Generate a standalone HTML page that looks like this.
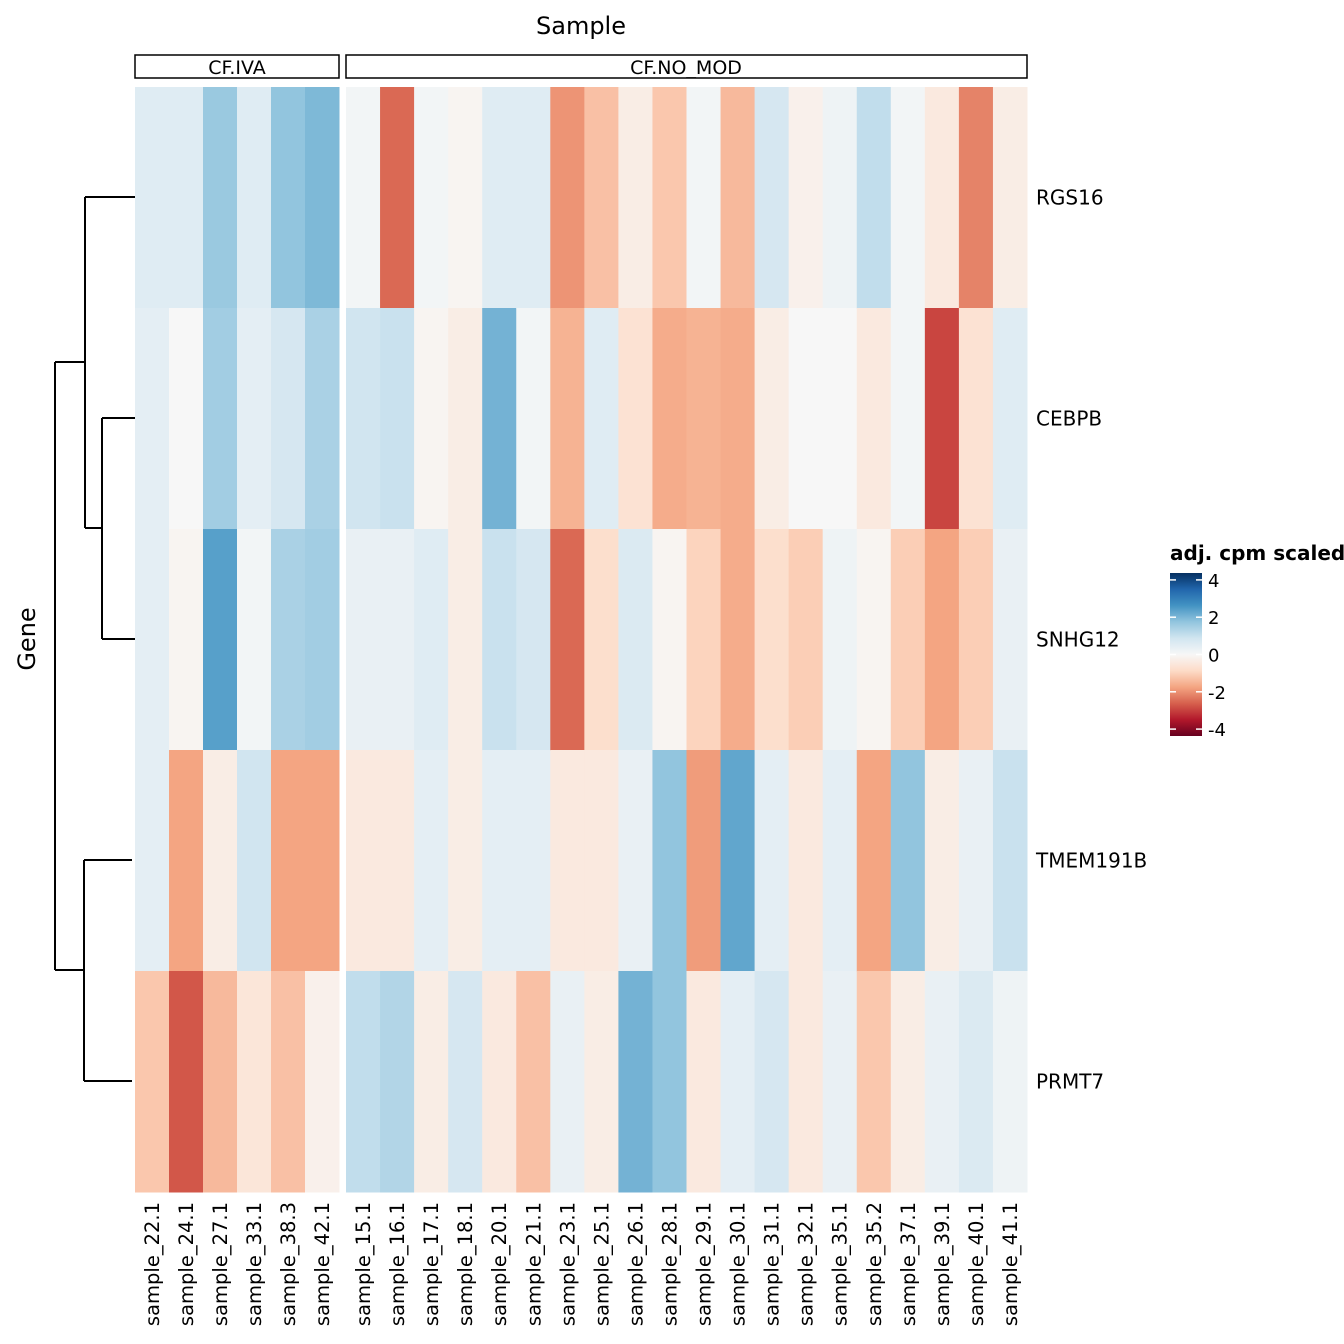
<!DOCTYPE html>
<html><head><meta charset="utf-8"><style>
body{margin:0;background:#fff;}
svg{display:block;font-family:"DejaVu Sans","Liberation Sans",sans-serif;}
</style></head><body>
<svg id="chart" width="1344" height="1344" viewBox="0 0 1344 1344">
<defs><linearGradient id="lg" x1="0" y1="1" x2="0" y2="0">
<stop offset="0" stop-color="#67001f"/><stop offset="0.1" stop-color="#b2182b"/><stop offset="0.2" stop-color="#d6604d"/><stop offset="0.3" stop-color="#f4a582"/><stop offset="0.4" stop-color="#fddbc7"/><stop offset="0.5" stop-color="#f7f7f7"/><stop offset="0.6" stop-color="#d1e5f0"/><stop offset="0.7" stop-color="#92c5de"/><stop offset="0.8" stop-color="#4393c3"/><stop offset="0.9" stop-color="#2166ac"/><stop offset="1" stop-color="#053061"/></linearGradient></defs>
<text x="581" y="34" font-size="24" text-anchor="middle">Sample</text>
<text x="0" y="0" font-size="24" text-anchor="middle" transform="translate(35,639) rotate(-90)">Gene</text>
<rect x="135" y="55" width="204" height="23" fill="none" stroke="#000" stroke-width="1.5"/>
<text x="237" y="74" font-size="19" text-anchor="middle">CF.IVA</text>
<rect x="346" y="55" width="681" height="23" fill="none" stroke="#000" stroke-width="1.5"/>
<text x="686" y="74" font-size="19" text-anchor="middle">CF.NO_MOD</text>
<g id="cells"></g>
<g id="dendro" fill="none" stroke="#000" stroke-width="2">
<path d="M102,418H135M102,639H135M102,418V639"/>
<path d="M85,197H135M85,528H102M85,197V528"/>
<path d="M84,860H132M84,1081H132M84,860V1081"/>
<path d="M55,362H85M55,970H84M55,362V970"/>
</g>
<g id="legend">
<text x="1170" y="560" font-size="20" font-weight="bold">adj. cpm scaled</text>
<rect x="1170" y="573" width="32" height="163" fill="url(#lg)"/>
</g>
</svg>
<script>
const ivaSamples=["sample_22.1","sample_24.1","sample_27.1","sample_33.1","sample_38.3","sample_42.1"];
const noModSamples=["sample_15.1","sample_16.1","sample_17.1","sample_18.1","sample_20.1","sample_21.1","sample_23.1","sample_25.1","sample_26.1","sample_28.1","sample_29.1","sample_30.1","sample_31.1","sample_32.1","sample_35.1","sample_35.2","sample_37.1","sample_39.1","sample_40.1","sample_41.1"];
const genes=["RGS16","CEBPB","SNHG12","TMEM191B","PRMT7"];
const ivaValues=[
[0.5,0.5,1.5,0.5,1.6,1.8],
[0.4,0.0,1.4,0.4,0.7,1.3],
[0.4,-0.1,2.2,0.1,1.3,1.4],
[0.4,-1.6,-0.3,0.8,-1.6,-1.6],
[-1.1,-2.5,-1.3,-0.5,-1.2,-0.2]];
const noModValues=[
[0.1,-2.3,0.1,-0.1,0.5,0.5,-1.8,-1.2,-0.3,-1.1,0.1,-1.3,0.7,-0.2,0.2,1.0,0.1,-0.4,-2.0,-0.3],
[0.8,0.9,-0.1,-0.3,1.9,0.1,-1.4,0.5,-0.6,-1.5,-1.4,-1.5,-0.3,0,0,-0.4,0.1,-2.7,-0.6,0.5],
[0.3,0.3,0.5,-0.3,0.9,0.7,-2.3,-0.7,0.6,-0.1,-0.9,-1.5,-0.7,-1.0,0.2,-0.1,-1.0,-1.6,-1.0,0.3],
[-0.4,-0.4,0.4,-0.3,0.4,0.4,-0.4,-0.4,0.3,1.6,-1.7,2.1,0.4,-0.4,0.4,-1.6,1.6,-0.3,0.3,0.9],
[1.0,1.2,-0.3,0.7,-0.4,-1.2,0.3,-0.3,1.9,1.6,-0.4,0.4,0.7,-0.4,0.3,-1.1,-0.3,0.3,0.6,0.2]];
const legendTicks=[4,2,0,-2,-4];

const NS="http://www.w3.org/2000/svg";
const stops=["#67001f","#b2182b","#d6604d","#f4a582","#fddbc7","#f7f7f7","#d1e5f0","#92c5de","#4393c3","#2166ac","#053061"];
function hex(h){return [1,3,5].map(i=>parseInt(h.substr(i,2),16));}
function color(v){let t=(Math.max(-4,Math.min(4,v))+4)/8*10;let i=Math.min(9,Math.floor(t)),f=t-i;
const a=hex(stops[i]),b=hex(stops[i+1]);return "rgb("+a.map((c,k)=>Math.round(c+(b[k]-c)*f)).join(",")+")";}
const hmTop=87,hmBottom=1192,rowH=(hmBottom-hmTop)/genes.length;
function yPos(r){return hmTop+r*rowH;}
function xIva(c){return 135+c*(339-135)/ivaSamples.length;}
function xNo(c){return 346+c*(1027-346)/noModSamples.length;}
const svg=document.getElementById('chart'),cells=document.getElementById('cells');
function mk(tag,attrs){const e=document.createElementNS(NS,tag);for(const k in attrs)e.setAttribute(k,attrs[k]);return e;}
function panel(samples,vals,xf,w){
 samples.forEach((s,c)=>{
  genes.forEach((g,r)=>{
   const e=mk('rect',{x:xf(c),y:yPos(r),width:w+0.5,height:rowH+0.5,fill:color(vals[r][c])});
   
   
   cells.appendChild(e);
  });
  const cx=xf(c)+w/2+7;
  const t=mk('text',{x:0,y:0,'font-size':19.5,'text-anchor':'end',transform:'translate('+cx+',1202) rotate(-90)'});
  t.textContent=s;
  
  
  svg.appendChild(t);
 });
}
panel(ivaSamples,ivaValues,xIva,(339-135)/ivaSamples.length);
panel(noModSamples,noModValues,xNo,(1027-346)/noModSamples.length);
genes.forEach((g,r)=>{
 const t=mk('text',{x:1036,y:yPos(r)+rowH/2+7,'font-size':20});
 t.textContent=g;
 
 
 svg.appendChild(t);
});
const leg=document.getElementById('legend');
function legY(v){return 654.5-v*37.3/2;}
legendTicks.forEach(v=>{
 const y=legY(v);
 [[1170,1176],[1196,1202]].forEach(p=>{
  const l=mk('line',{x1:p[0],x2:p[1],y1:y,y2:y,stroke:'#fff','stroke-width':1.5});
  
  
  leg.appendChild(l);
 });
 const t=mk('text',{x:1208,y:y+7,'font-size':18});
 t.textContent=v;
 
 
 leg.appendChild(t);
});
</script>
</body></html>
